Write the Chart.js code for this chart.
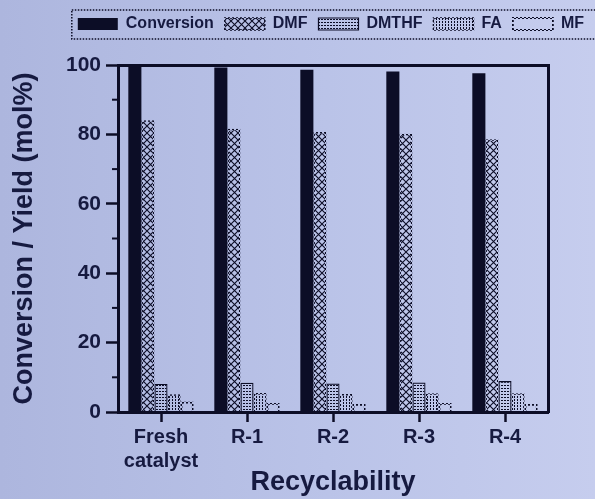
<!DOCTYPE html>
<html>
<head>
<meta charset="utf-8">
<script src="https://cdn.jsdelivr.net/npm/chart.js@4.4.1/dist/chart.umd.min.js"></script>
<style>
    html, body { margin: 0; padding: 0; }
    body {
        width: 595px;
        height: 499px;
        overflow: hidden;
        background: linear-gradient(90deg, #adb6de 0%, #bac3e8 55%, #c6cdee 100%);
    }
</style>
</head>
<body>
<canvas id="chart" width="595" height="499"></canvas>
<script>
const CATEGORIES = [['Fresh', 'catalyst'], 'R-1', 'R-2', 'R-3', 'R-4'];
const CONVERSION = [99.5, 99.3, 98.6, 98.1, 97.6];
const DMF = [84.1, 81.6, 80.7, 80.2, 78.6];
const DMTHF = [8.1, 8.4, 8.2, 8.5, 8.9];
const FA = [5.1, 5.5, 5.2, 5.4, 5.4];
const MF = [3.0, 2.6, 2.3, 2.6, 2.3];
const Y_TICKS = [0, 20, 40, 60, 80, 100];
const Y_MINOR = [10, 30, 50, 70, 90];

const INK = '#0c0d26';
const TEXT = '#161a40';
const FONT = "'Liberation Sans', Arial, sans-serif";

Chart.defaults.font.family = FONT;


// small tiles used as fills for the hatched bars
function makePattern(w, h, draw) {
    const tile = document.createElement('canvas');
    tile.width = w;
    tile.height = h;
    const g = tile.getContext('2d');
    g.fillStyle = INK;
    g.strokeStyle = INK;
    draw(g);
    return g.createPattern(tile, 'repeat');
}

const crossHatch = makePattern(7, 7, (g) => {
    g.lineWidth = 1.1;
    g.beginPath();
    g.moveTo(0, 0); g.lineTo(7, 7);
    g.moveTo(7, 0); g.lineTo(0, 7);
    g.stroke();
});
const rowDots = makePattern(3, 3, (g) => g.fillRect(0, 1, 2, 1));
const colDots = makePattern(3, 3, (g) => g.fillRect(1, 0, 1, 2));
const dotted = makePattern(4, 4, (g) => {
    g.fillRect(0, 0, 2, 2);
    g.fillRect(2, 2, 2, 2);
});


//////////////////////////////
//  Minor ticks + legend box //
//////////////////////////////
const extrasPlugin = {
    id: 'extras',
    afterDraw(chart) {
        const {ctx, chartArea: a} = chart;
        const yScale = chart.scales.y;
        ctx.save();
        ctx.strokeStyle = INK;
        ctx.lineWidth = 2;
        for (const v of Y_MINOR) {
            const py = yScale.getPixelForValue(v);
            ctx.beginPath();
            ctx.moveTo(a.left - 6, py);
            ctx.lineTo(a.left, py);
            ctx.stroke();
        }

        // box round the legend, runs off the right edge like the scan
        const boxes = chart.legend.legendHitBoxes;
        if (boxes && boxes.length) {
            const left = boxes[0].left - 6;
            const top = boxes[0].top - 6;
            const bottom = boxes[0].top + boxes[0].height + 7;
            ctx.lineWidth = 1.5;
            ctx.setLineDash([1.5, 1.5]);
            ctx.strokeRect(left, top, chart.width + 10 - left, bottom - top);
        }
        ctx.restore();
    }
};

const boldFont = (size) => ({size, weight: 'bold'});


new Chart(document.getElementById('chart'), {
    type: 'bar',
    data: {
        labels: CATEGORIES,
        datasets: [
            {label: 'Conversion', data: CONVERSION, backgroundColor: INK, borderWidth: 0},
            {label: 'DMF', data: DMF, backgroundColor: crossHatch, borderColor: dotted, borderWidth: 1.5},
            {label: 'DMTHF', data: DMTHF, backgroundColor: rowDots, borderColor: INK, borderWidth: 1.2},
            {label: 'FA', data: FA, backgroundColor: colDots, borderColor: dotted, borderWidth: 1.5},
            {label: 'MF', data: MF, backgroundColor: 'rgba(0,0,0,0)', borderColor: dotted, borderWidth: 1.8}
        ]
    },
    options: {
        responsive: false,
        animation: false,
        devicePixelRatio: 1,
        layout: {padding: {top: 5, left: 0, right: 0, bottom: 0}},
        datasets: {
            bar: {categoryPercentage: 0.76, barPercentage: 1.0, borderSkipped: 'start'}
        },
        plugins: {
            legend: {
                align: 'end',
                labels: {
                    boxWidth: 40,
                    boxHeight: 12,
                    padding: 11,
                    color: TEXT,
                    font: boldFont(16)
                }
            },
            tooltip: {enabled: false}
        },
        scales: {
            x: {
                afterFit: (s) => { s.height = 87; },
                border: {display: true, color: INK, width: 3},
                grid: {
                    display: true,
                    offset: false,
                    drawOnChartArea: false,
                    tickLength: 10,
                    tickWidth: 2.5,
                    tickColor: INK
                },
                ticks: {
                    color: TEXT,
                    padding: 3,
                    maxRotation: 0,
                    autoSkip: false,
                    font: boldFont(20)
                },
                title: {
                    display: true,
                    text: 'Recyclability',
                    color: TEXT,
                    font: boldFont(27),
                    padding: {top: 0, bottom: 0}
                }
            },
            // top and right edges of the frame
            xTop: {
                type: 'category',
                position: 'top',
                labels: CATEGORIES,
                afterFit: (s) => { s.height = 23; },
                border: {display: true, color: INK, width: 3},
                grid: {display: false, drawTicks: false},
                ticks: {display: false}
            },
            yRight: {
                position: 'right',
                min: 0,
                max: 100,
                afterFit: (s) => { s.width = 47; },
                border: {display: true, color: INK, width: 3},
                grid: {display: false, drawTicks: false},
                ticks: {display: false}
            },
            y: {
                min: 0,
                max: 100,
                afterBuildTicks: (s) => {
                    s.ticks = Y_TICKS.map((v) => ({value: v}));
                },
                afterFit: (s) => { s.width = 118; },
                border: {display: true, color: INK, width: 3},
                grid: {
                    display: true,
                    drawOnChartArea: false,
                    tickLength: 12,
                    tickWidth: 2.5,
                    tickColor: INK
                },
                ticks: {
                    color: TEXT,
                    padding: 5,
                    font: boldFont(21)
                },
                title: {
                    display: true,
                    text: 'Conversion / Yield (mol%)',
                    color: TEXT,
                    font: boldFont(27),
                    padding: {top: 8, bottom: 0}
                }
            }
        }
    },
    plugins: [extrasPlugin]
});
</script>
</body>
</html>
